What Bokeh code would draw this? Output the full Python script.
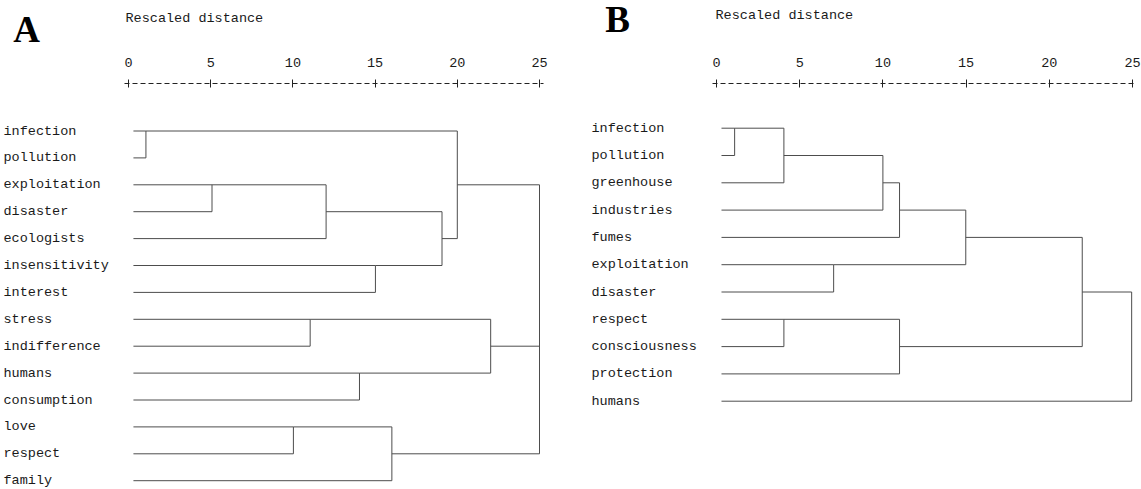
from bokeh.plotting import figure
from bokeh.models import Range1d, LinearAxis, FixedTicker
from bokeh.layouts import row, column
from bokeh.embed import file_html
from bokeh.resources import INLINE
from bokeh.core.properties import value

# ---------------- data ----------------
axis_ticks = [0, 5, 10, 15, 20, 25]
axis_title = "Rescaled distance"

# Panel A
leaves_a = ["infection", "pollution", "exploitation", "disaster", "ecologists",
            "insensitivity", "interest", "stress", "indifference", "humans",
            "consumption", "love", "respect", "family"]
# merges: node ids >= len(leaves) refer to earlier merges (in order)
merge_a_left = [0, 2, 15, 5, 16, 14, 7, 9, 20, 11, 23, 19, 25]
merge_a_right = [1, 3, 4, 6, 17, 18, 8, 10, 21, 12, 13, 22, 24]
merge_a_dist = [1.06, 5.08, 12.02, 15.02, 19.07, 20.0, 11.05, 14.05, 22.03,
                10.03, 16.02, 25.0, 25.0]

# Panel B
leaves_b = ["infection", "pollution", "greenhouse", "industries", "fumes",
            "exploitation", "disaster", "respect", "consciousness",
            "protection", "humans"]
merge_b_left = [0, 11, 12, 13, 5, 14, 7, 17, 16, 19]
merge_b_right = [1, 2, 3, 4, 6, 15, 8, 9, 18, 10]
merge_b_dist = [1.09, 4.05, 10.0, 11.0, 7.04, 14.98, 4.05, 11.0, 21.98, 24.95]

LEAF_START = 0.3

FONT_MONO = "Liberation Mono"
MONO_SIZE = "13.5px"
LINE_COLOR = "#4d4d4d"
TEXT_COLOR = "#1a1a1a"

HEAD_H = 50      # header strip (panel letter + axis title)
MAIN_H = 439     # dendrogram figure
FRAME_TOP = 33   # space for the distance axis above the frame


def dendro_segments(leaves, left, right, dist):
    n = len(leaves)
    xs = [LEAF_START] * n
    rows = list(range(n))
    x0, y0, x1, y1 = [], [], [], []
    for a, b, h in zip(left, right, dist):
        x0 += [xs[a], xs[b]]
        y0 += [rows[a], rows[b]]
        x1 += [h, h]
        y1 += [rows[a], rows[b]]
        x0.append(h)
        y0.append(rows[a])
        x1.append(h)
        y1.append(rows[b])
        xs.append(h)
        rows.append((rows[a] + rows[b]) // 2)
    return x0, y0, x1, y1


def make_panel(letter, leaves, left, right, dist, width, zero_px, k,
               row0, rowh, letter_x, letter_mid, title_dx, title_mid,
               label_x):
    xs0 = -zero_px / k
    xr = Range1d(xs0, xs0 + width / k)

    def xdata(fig_px):
        return xs0 + fig_px / k

    # ---- header strip: panel letter and axis title ----
    h = figure(width=width, height=HEAD_H, x_range=xr,
               y_range=Range1d(HEAD_H, 0),
               x_axis_type=None, y_axis_type=None,
               toolbar_location=None, output_backend="svg", min_border=0)
    h.outline_line_color = None
    h.background_fill_color = "white"
    h.border_fill_color = "white"
    h.text(x=[xdata(letter_x)], y=[letter_mid], text=[letter],
           text_font=value("Liberation Serif"), text_font_style="bold",
           text_font_size="37px", text_color="black",
           text_align="center", text_baseline="middle")
    h.text(x=[axis_ticks[0] + title_dx / k], y=[title_mid], text=[axis_title],
           text_font=value(FONT_MONO), text_font_size=MONO_SIZE,
           text_color=TEXT_COLOR, text_align="left",
           text_baseline="middle")

    # ---- dendrogram ----
    frame_h = MAIN_H - FRAME_TOP
    y_top = -row0 / rowh
    y_bot = (frame_h - row0) / rowh
    p = figure(width=width, height=MAIN_H,
               x_range=xr, y_range=Range1d(y_bot, y_top),
               x_axis_type=None, y_axis_type=None,
               toolbar_location=None, output_backend="svg",
               min_border_left=0, min_border_right=0,
               min_border_bottom=0, min_border_top=FRAME_TOP)
    p.outline_line_color = None
    p.background_fill_color = "white"
    p.border_fill_color = "white"

    ax = LinearAxis(ticker=FixedTicker(ticks=axis_ticks), bounds=(-0.25, 25.25))
    ax.axis_line_color = "#222222"
    ax.axis_line_width = 1
    ax.axis_line_dash = "5 3"
    ax.major_tick_in = 4
    ax.major_tick_out = 4
    ax.major_tick_line_color = "#222222"
    ax.minor_tick_line_color = None
    ax.major_label_text_font = FONT_MONO
    ax.major_label_text_font_size = MONO_SIZE
    ax.major_label_text_color = TEXT_COLOR
    ax.major_label_standoff = 13
    p.add_layout(ax, "above")

    x0, y0, x1, y1 = dendro_segments(leaves, left, right, dist)
    p.segment(x0=x0, y0=y0, x1=x1, y1=y1, line_color=LINE_COLOR, line_width=1)

    n = len(leaves)
    p.text(x=[xdata(label_x)] * n, y=list(range(n)), text=leaves,
           text_font=value(FONT_MONO), text_font_size=MONO_SIZE,
           text_color=TEXT_COLOR, text_align="left", text_baseline="middle")
    return column(h, p)


pa = make_panel("A", leaves_a, merge_a_left, merge_a_right, merge_a_dist,
                width=575, zero_px=128, k=16.44, row0=47.5, rowh=26.9,
                letter_x=26, letter_mid=29.4, title_dx=-3, title_mid=18.0,
                label_x=3)
pb = make_panel("B", leaves_b, merge_b_left, merge_b_right, merge_b_dist,
                width=566, zero_px=141, k=16.64, row0=44.7, rowh=27.3,
                letter_x=42, letter_mid=18.7, title_dx=-1, title_mid=14.8,
                label_x=16)

layout = row(pa, pb)
open("out.html", "w").write(file_html(layout, INLINE))
